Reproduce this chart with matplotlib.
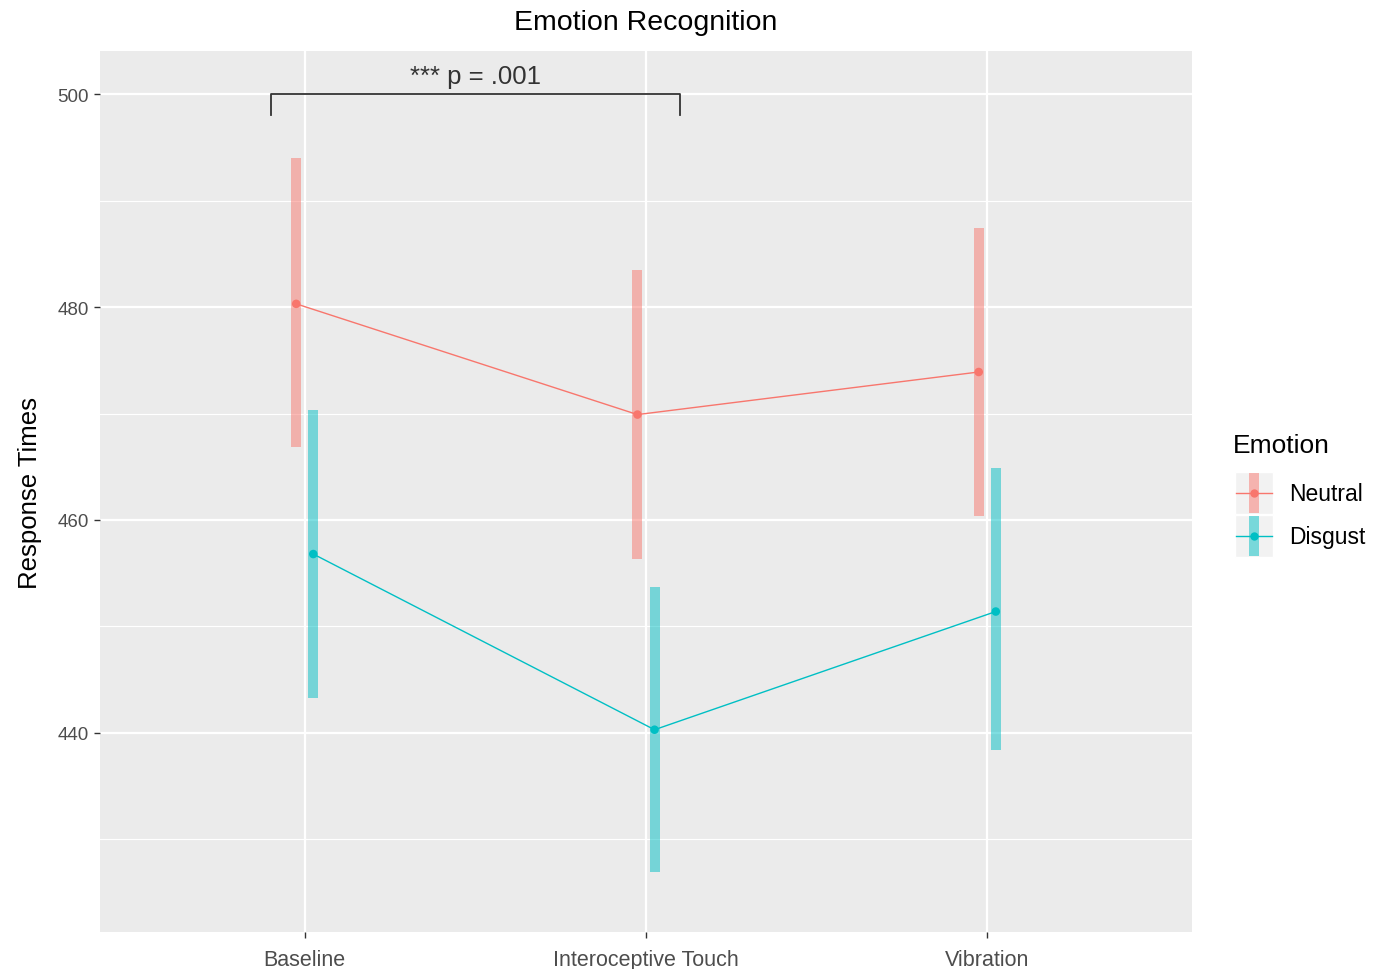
import numpy as np
import matplotlib
matplotlib.use("Agg")
import matplotlib.pyplot as plt
from matplotlib.lines import Line2D
from matplotlib.patches import Rectangle
from matplotlib.legend_handler import HandlerBase

plt.rcParams['font.family'] = ['Liberation Sans', 'DejaVu Sans']

conditions = ['Baseline', 'Interoceptive Touch', 'Vibration']
emotions = ['Neutral', 'Disgust']
colors = {'Neutral': '#F8766D', 'Disgust': '#00BFC4'}

neutral_mean = [480.3, 469.9, 473.9]
neutral_lo = [466.9, 456.3, 460.4]
neutral_hi = [494.0, 483.5, 487.4]

disgust_mean = [456.8, 440.3, 451.4]
disgust_lo = [443.3, 426.9, 438.4]
disgust_hi = [470.3, 453.7, 464.9]

stats = {
    'Neutral': (neutral_mean, neutral_lo, neutral_hi),
    'Disgust': (disgust_mean, disgust_lo, disgust_hi),
}
dodge = {'Neutral': -0.025, 'Disgust': 0.025}

W, H = 1376, 970
fig = plt.figure(figsize=(W / 100, H / 100), dpi=100)
ax = fig.add_axes([100 / W, 1 - 933 / H, 1092 / W, 881 / H])
ax.set_facecolor('#EBEBEB')
for s in ax.spines.values():
    s.set_visible(False)

x = np.arange(1, len(conditions) + 1)

# ggplot-style grid: thin minor lines between the majors
for yv in [430, 450, 470, 490]:
    ax.axhline(yv, color='white', lw=0.8, zorder=0)
for yv in [440, 460, 480, 500]:
    ax.axhline(yv, color='white', lw=1.6, zorder=0)
for xv in x:
    ax.axvline(xv, color='white', lw=1.6, zorder=0)

for emo in emotions:
    m, lo, hi = stats[emo]
    xs = x + dodge[emo]
    c = colors[emo]
    ax.vlines(xs, lo, hi, color=c, lw=7.2, alpha=0.5, zorder=2)
    ax.plot(xs, m, color=c, lw=1.0, zorder=3)
    ax.scatter(xs, m, s=38, color=c, zorder=4, edgecolors='none')

# significance bracket
bx0, bx1, by, drop = 0.9, 2.1, 500, 2.0
ax.plot([bx0, bx0, bx1, bx1], [by - drop, by, by, by - drop], color='#333333', lw=1.3, zorder=5)
ax.text((bx0 + bx1) / 2, by + 0.55, '*** p = .001', ha='center', va='bottom',
        fontsize=18.5, color='#333333')

ax.set_xlim(0.4, 3.6)
ax.set_ylim(421.3, 504.05)
ax.set_xticks(x)
ax.set_xticklabels(conditions, fontsize=15.5, color='#4D4D4D')
ax.set_yticks([440, 460, 480, 500])
ax.set_yticklabels(['440', '460', '480', '500'], fontsize=13.5, color='#4D4D4D')
ax.tick_params(axis='both', length=4, width=1, color='#333333')
ax.tick_params(axis='x', pad=8)
ax.tick_params(axis='y', pad=4)

fig.text(0.5 * (100 + 1192) / W, 1 - 23 / H, 'Emotion Recognition', ha='center', va='center',
         fontsize=20.5, color='black')
fig.text(30 / W, 1 - 493 / H, 'Response Times', rotation=90, ha='center', va='center',
         fontsize=18.5, color='black')


class KeyHandler(HandlerBase):
    """Legend key: grey box, translucent vertical bar, line and point."""

    def create_artists(self, legend, orig_handle, xdescent, ydescent, width, height, fontsize, trans):
        c = orig_handle.get_color()
        x0, y0 = -xdescent, -ydescent
        cx, cy = x0 + width / 2, y0 + height / 2
        bw = 7.0
        bg = Rectangle((x0, y0), width, height, fc='#F2F2F2', ec='white', lw=1, transform=trans)
        bar = Rectangle((cx - bw / 2, y0 + 1), bw, height - 2, fc=c, ec='none', alpha=0.5, transform=trans)
        line = Line2D([x0 + 1, x0 + width - 1], [cy, cy], color=c, lw=1.0, transform=trans)
        pt = Line2D([cx], [cy], marker='o', markersize=6, markeredgewidth=0, color=c,
                    linestyle='none', transform=trans)
        return [bg, bar, line, pt]


proxies = [Line2D([], [], color=colors[e]) for e in emotions]
fs = 16.5
fs_px = fs * 100 / 72
fig.text(1233 / W, 1 - 446 / H, 'Emotion', ha='left', va='center', fontsize=19, color='black')
fig.legend(proxies, emotions, handler_map={Line2D: KeyHandler()},
           loc='upper left', bbox_to_anchor=(1235 / W, 1 - 473 / H), frameon=False,
           fontsize=fs, borderpad=0, borderaxespad=0,
           handlelength=38 / fs_px, handleheight=43 / fs_px / 0.77,
           labelspacing=0.05, handletextpad=16 / fs_px)

fig.savefig('out.png', dpi=100)
